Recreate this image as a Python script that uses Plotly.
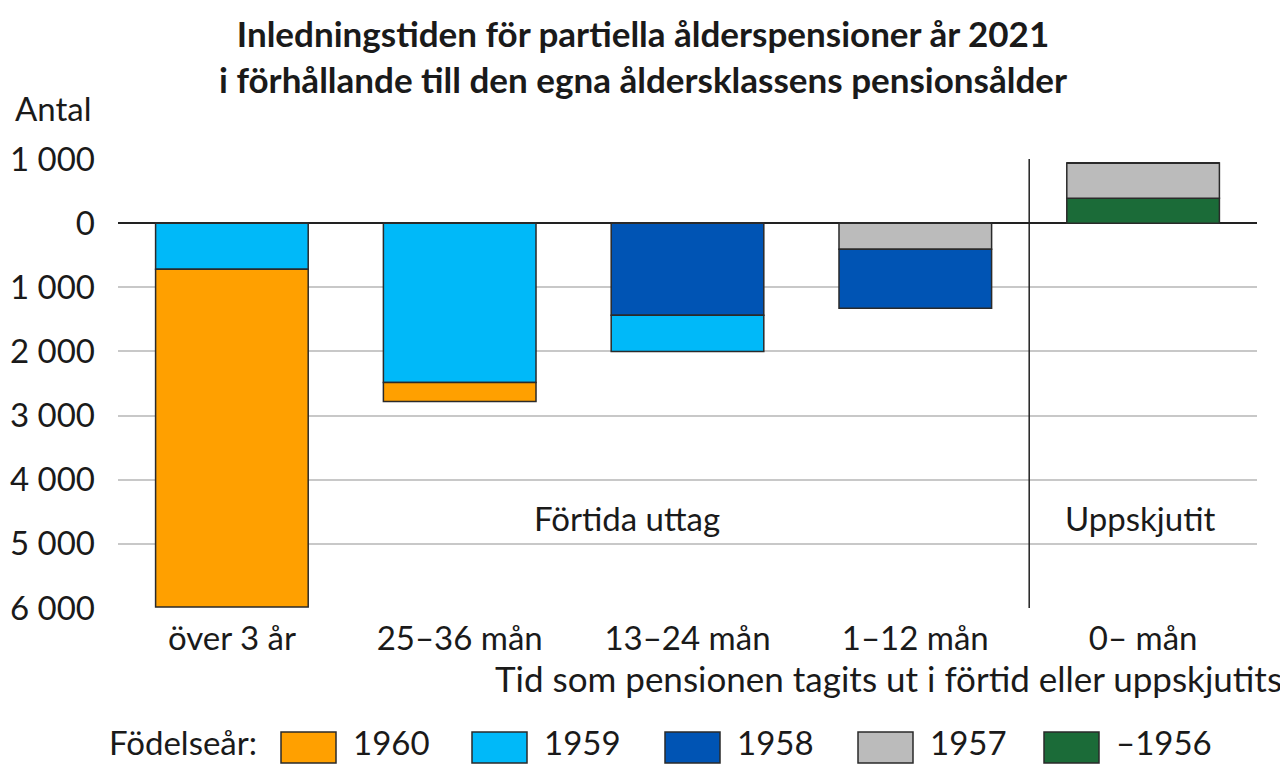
import plotly.graph_objects as go

categories = ["över 3 år", "25–36 mån", "13–24 mån", "1–12 mån", "0– mån"]
series_names = ["–1956", "1957", "1958", "1959", "1960"]
v1956 = [0, 0, 0, 0, 390]
v1957 = [0, 0, 0, -406, 547]
v1958 = [0, 0, -1437, -922, 0]
v1959 = [-720, -2484, -563, 0, 0]
v1960 = [-5265, -297, 0, 0, 0]
colors = {"–1956": "#1B6B38", "1957": "#BBBBBB", "1958": "#0054B4",
          "1959": "#00B9F9", "1960": "#FFA000"}
tick_vals = [1000, 0, -1000, -2000, -3000, -4000, -5000, -6000]
tick_text = ["1 000", "0", "1 000", "2 000", "3 000", "4 000", "5 000", "6 000"]
legend_order = ["1960", "1959", "1958", "1957", "–1956"]

FONT = "Lato"
TXT = "#1a1a1a"
FS = 33

values = {"–1956": v1956, "1957": v1957, "1958": v1958, "1959": v1959, "1960": v1960}

fig = go.Figure()
for name in series_names:
    fig.add_trace(go.Bar(
        x=categories, y=values[name], name=name,
        marker=dict(color=colors[name], line=dict(color="#2a2a2a", width=1.5)),
        showlegend=False,
    ))

O = 8  # page body offset
W, H = 1288 - O, 764 - O
L, R, T, B = 118 - O, 1257 - O, 159 - O, 608 - O

def px(x):
    return (x - O - L) / (R - L)

def py(y):
    return (B - (y - O)) / (B - T)

shapes = [dict(type="line", xref="x", yref="y", x0=3.5, x1=3.5, y0=1000, y1=-6000,
               line=dict(color="#222", width=1.5))]
annotations = [
    dict(text="<b>Inledningstiden för partiella ålderspensioner år 2021<br>i förhållande till den egna åldersklassens pensionsålder</b>",
         xref="paper", yref="paper", x=px(643), y=py(56), xanchor="center", yanchor="middle",
         showarrow=False, font=dict(family=FONT, size=35, color=TXT)),
    dict(text="Antal", xref="paper", yref="paper", x=px(13), y=py(108), xanchor="left", yanchor="middle",
         showarrow=False, font=dict(family=FONT, size=FS, color=TXT)),
    dict(text="Förtida uttag", xref="paper", yref="paper", x=px(627), y=py(518), xanchor="center", yanchor="middle",
         showarrow=False, font=dict(family=FONT, size=FS, color=TXT)),
    dict(text="Uppskjutit", xref="paper", yref="paper", x=px(1140), y=py(518), xanchor="center", yanchor="middle",
         showarrow=False, font=dict(family=FONT, size=FS, color=TXT)),
    dict(text="Tid som pensionen tagits ut i förtid eller uppskjutits", xref="paper", yref="paper",
         x=px(1284), y=py(678), xanchor="right", yanchor="middle",
         showarrow=False, font=dict(family=FONT, size=35, color=TXT)),
    dict(text="Födelseår:", xref="paper", yref="paper", x=px(259), y=py(764), xanchor="right", yanchor="bottom",
         showarrow=False, font=dict(family=FONT, size=FS, color=TXT)),
]

box_left = [281, 472, 665, 858, 1044]
for name, bx in zip(legend_order, box_left):
    shapes.append(dict(type="rect", xref="paper", yref="paper",
                       x0=px(bx), x1=px(bx + 55), y0=py(763), y1=py(732),
                       fillcolor=colors[name], line=dict(color="#2a2a2a", width=1.5)))
    annotations.append(dict(text=name, xref="paper", yref="paper", x=px(bx + 70), y=py(764),
                            xanchor="left", yanchor="bottom", showarrow=False,
                            font=dict(family=FONT, size=FS, color=TXT)))

fig.update_layout(
    width=W, height=H,
    margin=dict(l=L, r=W - R, t=T, b=H - B, autoexpand=False),
    barmode="relative", bargap=0.33,
    plot_bgcolor="white", paper_bgcolor="white",
    font=dict(family=FONT, size=FS, color=TXT),
    shapes=shapes, annotations=annotations,
    showlegend=False,
)
fig.update_xaxes(showgrid=False, showline=False, ticks="", tickfont=dict(family=FONT, size=FS, color=TXT),
                 ticklabelstandoff=8, fixedrange=True)
fig.update_yaxes(range=[-6000, 1000], tickvals=tick_vals, ticktext=tick_text,
                 showgrid=True, gridcolor="#C8C8C8", gridwidth=1.5,
                 zeroline=True, zerolinecolor="#222", zerolinewidth=1.5,
                 showline=False, ticks="", ticklabelstandoff=22,
                 tickfont=dict(family=FONT, size=FS, color=TXT), fixedrange=True)

fig.write_html("out.html")
